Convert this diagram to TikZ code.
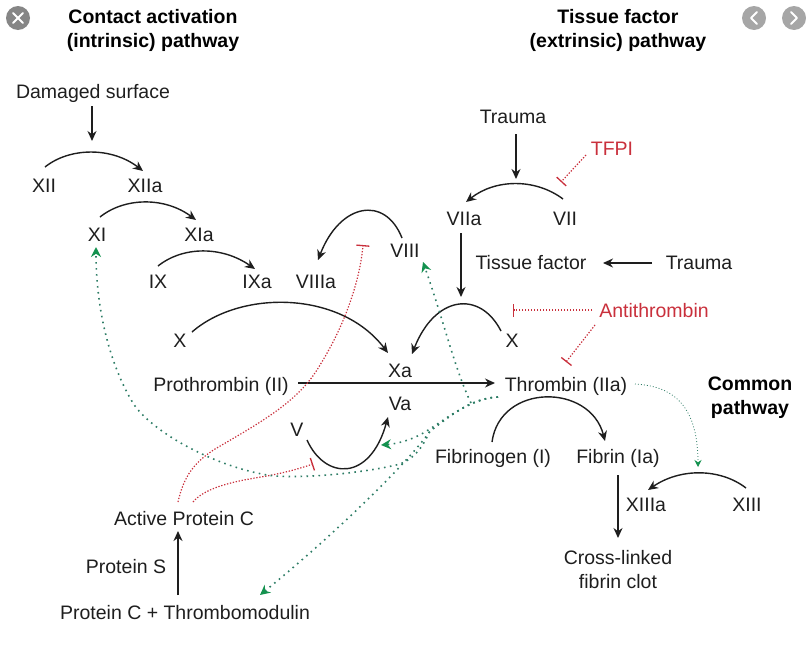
\documentclass[tikz,border=0pt]{standalone}
\usepackage{fontspec}
\setmainfont{Liberation Sans}
\usetikzlibrary{arrows.meta}
\definecolor{ink}{HTML}{1E1E1E}
\definecolor{redx}{HTML}{C9303C}
\definecolor{greendot}{HTML}{2E7D66}
\definecolor{greentip}{HTML}{14924F}
\tikzset{
  lbl/.style={anchor=base,inner sep=0pt,text=ink,font=\fontsize{19.5}{24}\selectfont},
  lblred/.style={lbl,text=redx},
  ttl/.style={inner sep=0pt,align=center,text=black,font=\fontsize{19.5}{24}\selectfont\bfseries},
  conv/.style={draw=ink,line width=1.4pt,-{Stealth[length=10pt,width=9pt]}},
  inhib/.style={draw=redx,line width=1.2pt,dash pattern=on 1.3pt off 1.7pt,-{Bar[width=13pt,line width=1.3pt]}},
  activ/.style={draw=greendot,line width=1.6pt,dash pattern=on 1.6pt off 4.4pt,-{Stealth[length=10pt,width=10pt,color=greentip]}},
  activthin/.style={draw=greendot,line width=.8pt,dash pattern=on .9pt off 2.1pt,-{Stealth[length=7pt,width=7pt,color=greentip]}},
  uibtn/.style={fill=#1,draw=none},
  uiglyph/.style={draw=white,line width=2pt,line cap=round,line join=round}
}
\begin{document}
\begin{tikzpicture}[x=1pt,y=-1pt]
\useasboundingbox (0,0) rectangle (806,648);
% viewer buttons
\fill[uibtn=gray!95] (18,18) circle (12);
\draw[uiglyph] (13,13) -- (23,23) (23,13) -- (13,23);
\fill[uibtn=gray!70] (754,18) circle (12);
\draw[uiglyph] (757,12) -- (751,18) -- (757,24);
\fill[uibtn=gray!70] (794,18) circle (12);
\draw[uiglyph] (791,12) -- (797,18) -- (791,24);
% titles
\node[ttl] (tintr) at (153,30) {Contact activation\\(intrinsic) pathway};
\node[ttl] (textr) at (618,30) {Tissue factor\\(extrinsic) pathway};
\node[ttl] (tcomm) at (750,398) {Common\\pathway};
% labels
\node[lbl] (dmg) at (93,98) {Damaged surface};
\node[lbl] (xii) at (44,192) {XII};
\node[lbl] (xiia) at (145,192) {XIIa};
\node[lbl] (xi) at (97,241) {XI};
\node[lbl] (xia) at (199,241) {XIa};
\node[lbl] (ix) at (158,288) {IX};
\node[lbl] (ixa) at (257,288) {IXa};
\node[lbl] (viiia) at (316,288) {VIIIa};
\node[lbl] (viii) at (405,257) {VIII};
\node[lbl] (xl) at (180,347) {X};
\node[lbl] (xa) at (400,377) {Xa};
\node[lbl] (pro) at (221,391) {Prothrombin (II)};
\node[lbl] (thr) at (566,391) {Thrombin (IIa)};
\node[lbl] (va) at (400,410) {Va};
\node[lbl] (v) at (297,436) {V};
\node[lbl] (trt) at (513,123) {Trauma};
\node[lblred] (tfpi) at (612,155) {TFPI};
\node[lbl] (viia) at (464,225) {VIIa};
\node[lbl] (vii) at (565,225) {VII};
\node[lbl] (tf) at (531,269) {Tissue factor};
\node[lbl] (trr) at (699,269) {Trauma};
\node[lblred] (anti) at (654,317) {Antithrombin};
\node[lbl] (xr) at (512,347) {X};
\node[lbl] (fbg) at (493,463) {Fibrinogen (I)};
\node[lbl] (fbn) at (618,463) {Fibrin (Ia)};
\node[lbl] (xiiia) at (646,511) {XIIIa};
\node[lbl] (xiii) at (747,511) {XIII};
\node[lbl,align=center,anchor=center] (clot) at (618,570) {Cross-linked\\fibrin clot};
\node[lbl] (apc) at (184,525) {Active Protein C};
\node[lbl] (ps) at (126,573) {Protein S};
\node[lbl] (pctm) at (185,619) {Protein C + Thrombomodulin};
% straight black arrows
\draw[conv] ([shift={(-1pt,-8pt)}]dmg.base) -- ([shift={(-1pt,-43pt)}]dmg.base);
\draw[conv] ([shift={(3pt,-11pt)}]trt.base) -- ([shift={(3pt,-56pt)}]trt.base);
\draw[conv] ([shift={(-3pt,-8pt)}]viia.base) -- ([shift={(-3pt,-72pt)}]viia.base);
\draw[conv] ([shift={(-47pt,6pt)}]trr.base) -- ([shift={(-96pt,6pt)}]trr.base);
\draw[conv] ([shift={(77pt,8pt)}]pro.base) -- ([shift={(-71pt,8pt)}]thr.base);
\draw[conv] ([shift={(0pt,-12pt)}]fbn.base) -- ([shift={(0pt,-75pt)}]fbn.base);
\draw[conv] ([shift={(-7pt,24pt)}]pctm.base) -- ([shift={(-6pt,-6pt)}]apc.base);
% curved black arrows
\draw[conv] ([shift={(1pt,25pt)}]xii.base) .. controls (70,147) and (112,147) .. ([shift={(-2pt,21pt)}]xiia.base);
\draw[conv] ([shift={(3pt,24pt)}]xi.base) .. controls (125,197) and (165,197) .. ([shift={(-3pt,21pt)}]xia.base);
\draw[conv] ([shift={(0pt,22pt)}]ix.base) .. controls (183,246) and (222,246) .. ([shift={(-2pt,19pt)}]ixa.base);
\draw[conv] ([shift={(-3pt,19pt)}]viii.base) .. controls (385,195) and (340,203) .. ([shift={(2pt,28pt)}]viiia.base);
\draw[conv] ([shift={(12pt,15pt)}]xl.base) .. controls (240,290) and (340,290) .. ([shift={(-12pt,24pt)}]xa.base);
\draw[conv] ([shift={(-11pt,16pt)}]xr.base) .. controls (480,290) and (435,295) .. ([shift={(12pt,23pt)}]xa.base);
\draw[conv] ([shift={(10pt,-4pt)}]v.base) .. controls (325,480) and (370,482) .. ([shift={(-12pt,-7pt)}]va.base);
\draw[conv] ([shift={(-2pt,26pt)}]vii.base) .. controls (535,178) and (495,179) .. ([shift={(2pt,23pt)}]viia.base);
\draw[conv] ([shift={(-1pt,21pt)}]fbg.base) .. controls (500,383) and (590,383) .. ([shift={(-13pt,22pt)}]fbn.base);
\draw[conv] ([shift={(-1pt,23pt)}]xiii.base) .. controls (720,468) and (680,468) .. ([shift={(2pt,21pt)}]xiiia.base);
% red inhibition
\draw[inhib] ([shift={(-6pt,23pt)}]apc.base) .. controls (184,475) and (195,462) .. (215,449) .. controls (265,420) and (300,400) .. (320,365) .. controls (345,325) and (360,280) .. ([shift={(-42pt,12pt)}]viii.base);
\draw[inhib] ([shift={(9pt,23pt)}]apc.base) .. controls (203,490) and (225,483) .. (255,478) .. controls (280,474) and (295,470) .. ([shift={(16pt,-28pt)}]v.base);
\draw[inhib] ([shift={(-26pt,0pt)}]tfpi.base) -- ([shift={(-51pt,-27pt)}]tfpi.base);
\draw[inhib] ([shift={(-62pt,7pt)}]anti.base) -- ([shift={(-141pt,7pt)}]anti.base);
\draw[inhib] ([shift={(-59pt,-8pt)}]anti.base) -- ([shift={(0pt,29pt)}]thr.base);
% green activation
\draw[activ] ([shift={(-68pt,-6pt)}]thr.base) .. controls (470,398) and (445,420) .. (425,432) .. controls (410,441) and (395,444) .. ([shift={(-19pt,-35pt)}]va.base);
\draw[activ] ([shift={(-68pt,-6pt)}]thr.base) .. controls (470,398) and (445,420) .. (430,431) .. controls (412,458) and (340,530) .. ([shift={(75pt,24pt)}]pctm.base);
\draw[activ] ([shift={(-68pt,-6pt)}]thr.base) .. controls (470,398) and (445,420) .. (430,431) .. controls (422,448) and (415,458) .. (400,464) .. controls (370,472) and (300,480) .. (267,475) .. controls (210,465) and (150,430) .. (133,403) .. controls (110,365) and (96,310) .. ([shift={(-1pt,-6pt)}]xi.base);
\draw[activ] ([shift={(-95pt,-12pt)}]thr.base) .. controls (455,370) and (445,325) .. ([shift={(18pt,-5pt)}]viii.base);
\draw[activthin] ([shift={(69pt,7pt)}]thr.base) .. controls (668,386) and (698,400) .. ([shift={(80pt,-4pt)}]fbn.base);
\end{tikzpicture}
\end{document}
